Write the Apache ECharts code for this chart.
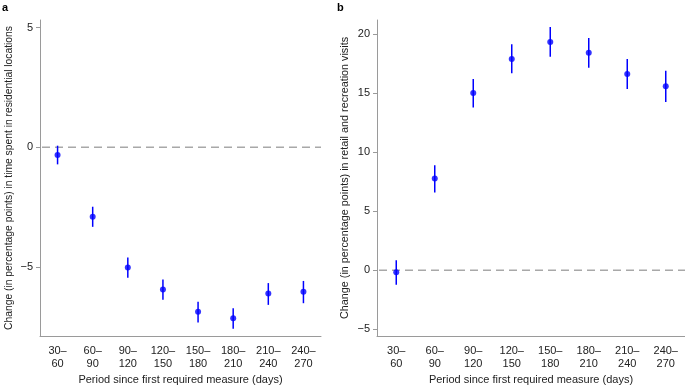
<!DOCTYPE html>
<html>
<head>
<meta charset="utf-8">
<script src="https://cdn.jsdelivr.net/npm/echarts@6/dist/echarts.min.js"></script>
<style>
  html, body { margin: 0; padding: 0; background: #fff; }
  #chart { width: 685px; height: 386px; }
</style>
</head>
<body>
<div id="chart"></div>
<script>
let categories = ['30–\n60', '60–\n90', '90–\n120', '120–\n150', '150–\n180', '180–\n210', '210–\n240', '240–\n270']

// a: residential locations
let residentialMean = [-0.32, -2.90, -5.02, -5.94, -6.87, -7.14, -6.10, -6.03]
let residentialLow = [-0.71, -3.32, -5.45, -6.37, -7.32, -7.58, -6.58, -6.51]
let residentialHigh = [0.07, -2.48, -4.60, -5.52, -6.45, -6.72, -5.67, -5.58]
let residentialTicks = [-5, 0, 5]

// b: retail and recreation
let retailMean = [-0.17, 7.77, 15.0, 17.88, 19.32, 18.42, 16.61, 15.57]
let retailLow = [-1.24, 6.58, 13.79, 16.69, 18.08, 17.14, 15.34, 14.24]
let retailHigh = [0.85, 8.90, 16.19, 19.13, 20.59, 19.66, 17.88, 16.89]
let retailTicks = [-5, 0, 5, 10, 15, 20]

let font = '"Liberation Sans", Arial, sans-serif'
let axisColor = '#9a9a9a'
let textColor = '#222'
let dotColor = '#0000ff'

function xAxisFor(gridIndex) {
  return {
    type: 'category',
    gridIndex: gridIndex,
    data: categories,
    boundaryGap: true,
    name: 'Period since first required measure (days)',
    nameLocation: 'middle',
    nameGap: 38,
    nameTextStyle: { color: textColor, fontSize: 11, fontFamily: font },
    // axis stays at the bottom, not on y = 0
    axisLine: { onZero: false, lineStyle: { color: axisColor, width: 1 } },
    axisTick: { alignWithLabel: true, length: 4, lineStyle: { color: axisColor } },
    axisLabel: { color: textColor, fontSize: 11, fontFamily: font, margin: 8, lineHeight: 13 },
    splitLine: { show: false }
  }
}

function yAxisFor(gridIndex, min, max, ticks, title, titleSize) {
  return {
    type: 'value',
    gridIndex: gridIndex,
    min: min,
    max: max,
    name: title,
    nameLocation: 'middle',
    nameGap: 26,
    nameTextStyle: { color: textColor, fontSize: titleSize, fontFamily: font },
    axisLine: { show: true, lineStyle: { color: axisColor, width: 1 } },
    axisTick: { show: true, length: 4, customValues: ticks, lineStyle: { color: axisColor } },
    axisLabel: {
      color: textColor, fontSize: 11, fontFamily: font, margin: 7,
      customValues: ticks,
      formatter: v => (v < 0 ? '\u2212' + Math.abs(v) : String(v))
    },
    splitLine: { show: false }
  }
}

// dashed reference line at zero, across the whole grid
function zeroLine(idx) {
  return {
    type: 'custom',
    xAxisIndex: idx,
    yAxisIndex: idx,
    data: [[0, 0]],
    renderItem: function (params, api) {
      let y = api.coord([0, api.value(1)])[1]
      let cs = params.coordSys
      return {
        type: 'line',
        shape: { x1: cs.x + 2, y1: y, x2: cs.x + cs.width, y2: y },
        style: { stroke: '#a8a8a8', lineWidth: 1.5, lineDash: [8, 5] }
      }
    },
    z: 1,
    silent: true
  }
}

// error bars drawn as vertical lines from low to high
function errorBars(idx, low, high) {
  return {
    type: 'custom',
    xAxisIndex: idx,
    yAxisIndex: idx,
    data: low.map((v, i) => [i, v, high[i]]),
    renderItem: function (params, api) {
      let p1 = api.coord([api.value(0), api.value(1)])
      let p2 = api.coord([api.value(0), api.value(2)])
      return {
        type: 'line',
        shape: { x1: p1[0], y1: p1[1], x2: p2[0], y2: p2[1] },
        style: { stroke: dotColor, lineWidth: 1.5 }
      }
    },
    z: 3,
    silent: true
  }
}

function points(idx, mean) {
  return {
    type: 'scatter',
    xAxisIndex: idx,
    yAxisIndex: idx,
    data: mean,
    symbol: 'circle',
    symbolSize: 6,
    itemStyle: { color: dotColor },
    z: 4,
    silent: true
  }
}

let chart = echarts.init(document.getElementById('chart'), null, { renderer: 'canvas' })
chart.setOption({
  animation: false,
  backgroundColor: '#fff',
  textStyle: { fontFamily: font },
  title: [
    { text: 'a', left: 2, top: 2, padding: 0, textStyle: { fontSize: 11, fontWeight: 'bold', color: '#000', fontFamily: font } },
    { text: 'b', left: 337, top: 2, padding: 0, textStyle: { fontSize: 11, fontWeight: 'bold', color: '#000', fontFamily: font } }
  ],
  // keep the grids exactly where they are put, labels may sit outside
  grid: [
    { left: 40, top: 20, width: 281, bottom: 50, outerBoundsMode: 'none' },
    { left: 377, top: 20, right: 0, bottom: 50, outerBoundsMode: 'none' }
  ],
  xAxis: [xAxisFor(0), xAxisFor(1)],
  yAxis: [
    yAxisFor(0, -7.88, 5.32, residentialTicks, 'Change (in percentage points) in time spent in residential locations', 10.3),
    yAxisFor(1, -5.57, 21.19, retailTicks, 'Change (in percentage points) in retail and recreation visits', 10.8)
  ],
  series: [
    zeroLine(0),
    errorBars(0, residentialLow, residentialHigh),
    points(0, residentialMean),
    zeroLine(1),
    errorBars(1, retailLow, retailHigh),
    points(1, retailMean)
  ]
})
</script>
</body>
</html>
